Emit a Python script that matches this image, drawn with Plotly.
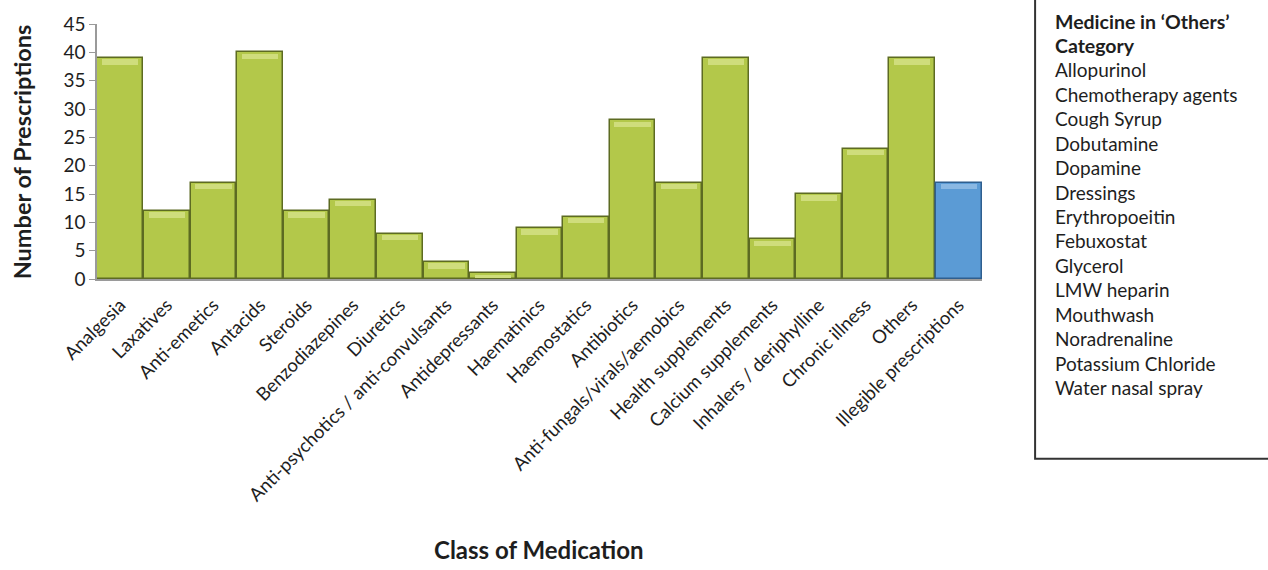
import plotly.graph_objects as go

categories = [
    "Analgesia", "Laxatives", "Anti-emetics", "Antacids", "Steroids",
    "Benzodiazepines", "Diuretics", "Anti-psychotics / anti-convulsants",
    "Antidepressants", "Haematinics", "Haemostatics", "Antibiotics",
    "Anti-fungals/virals/aemobics", "Health supplements", "Calcium supplements",
    "Inhalers / deriphylline", "Chronic illness", "Others", "Illegible prescriptions",
]
prescriptions = [39, 12, 17, 40, 12, 14, 8, 3, 1, 9, 11, 28, 17, 39, 7, 15, 23, 39, 17]

others_heading = ["Medicine in \u2018Others\u2019", "Category"]
others_list = [
    "Allopurinol", "Chemotherapy agents", "Cough Syrup", "Dobutamine", "Dopamine",
    "Dressings", "Erythropoeitin", "Febuxostat", "Glycerol", "LMW heparin",
    "Mouthwash", "Noradrenaline", "Potassium Chloride", "Water nasal spray",
]

y_ticks = list(range(0, 50, 5))

GREEN = "#b3c84a"
GREEN_TOP = "#cfdd7c"
GREEN_EDGE = "#5d6b22"
BLUE = "#5b9bd5"
BLUE_TOP = "#8ab8e3"
BLUE_EDGE = "#2f5f8f"

is_blue = [c == "Illegible prescriptions" for c in categories]
fills = [BLUE if b else GREEN for b in is_blue]
tops = [BLUE_TOP if b else GREEN_TOP for b in is_blue]
edges = [BLUE_EDGE if b else GREEN_EDGE for b in is_blue]

FONT = "Lato, 'Open Sans', sans-serif"
TEXT = "#1e1e1e"

fig = go.Figure()
fig.add_trace(go.Bar(
    x=categories,
    y=prescriptions,
    marker=dict(color=fills, line=dict(color=edges, width=1.5)),
    width=0.98,
    hoverinfo="x+y",
))
# lighter bevel strip along the top of each bar
cap = [min(0.9, v * 0.5) for v in prescriptions]
fig.add_trace(go.Bar(
    x=categories,
    y=cap,
    base=[v - c - 0.25 for v, c in zip(prescriptions, cap)],
    marker=dict(color=tops, line=dict(width=0)),
    width=0.78,
    hoverinfo="skip",
))

fig.update_layout(
    width=1268,
    height=570,
    margin=dict(l=97, r=286, t=17, b=291),
    paper_bgcolor="white",
    plot_bgcolor="white",
    showlegend=False,
    bargap=0,
    barmode="overlay",
    font=dict(family=FONT, color=TEXT),
    xaxis=dict(
        type="category",
        range=[-0.5, len(categories) - 0.5],
        tickangle=-45,
        tickfont=dict(size=18.5, family=FONT, color=TEXT),
        ticklabelstandoff=6,
        showline=True, linecolor="#9a9a9a", linewidth=2,
        ticks="", showgrid=False, zeroline=False,
    ),
    yaxis=dict(
        range=[0, 45],
        tickvals=y_ticks,
        tickfont=dict(size=19, family=FONT, color=TEXT),
        showline=True, linecolor="#9a9a9a", linewidth=1.5,
        ticks="outside", ticklen=6, tickcolor="#9a9a9a",
        showgrid=False, zeroline=False,
    ),
)

# axis titles
fig.add_annotation(
    text="<b>Number of Prescriptions</b>", xref="paper", yref="paper",
    x=-0.085, y=0.5, xanchor="center", yanchor="middle", textangle=-90,
    showarrow=False, font=dict(size=23.5, family=FONT, color=TEXT),
)
fig.add_annotation(
    text="<b>Class of Medication</b>", xref="paper", yref="paper",
    x=0.499, y=-1.06, xanchor="center", yanchor="middle",
    showarrow=False, font=dict(size=24, family=FONT, color=TEXT),
)

# side panel listing the contents of the 'Others' class
fig.add_shape(
    type="rect", xref="paper", yref="paper",
    x0=1.06, x1=1.40, y0=-0.705, y1=1.2,
    line=dict(color="#333333", width=2), fillcolor="rgba(0,0,0,0)",
)
panel_lines = [f"<b>{t}</b>" for t in others_heading] + others_list
line_step = 25.1
for i, txt in enumerate(panel_lines):
    y_px = 14 + i * line_step
    fig.add_annotation(
        text=txt, xref="paper", yref="paper",
        x=(1053 - 97) / (982 - 97), y=(279 - y_px) / (279 - 17),
        xanchor="left", yanchor="middle", showarrow=False,
        font=dict(size=19.5 if i < 2 else 19, family=FONT, color=TEXT),
    )

fig.write_html("out.html")
